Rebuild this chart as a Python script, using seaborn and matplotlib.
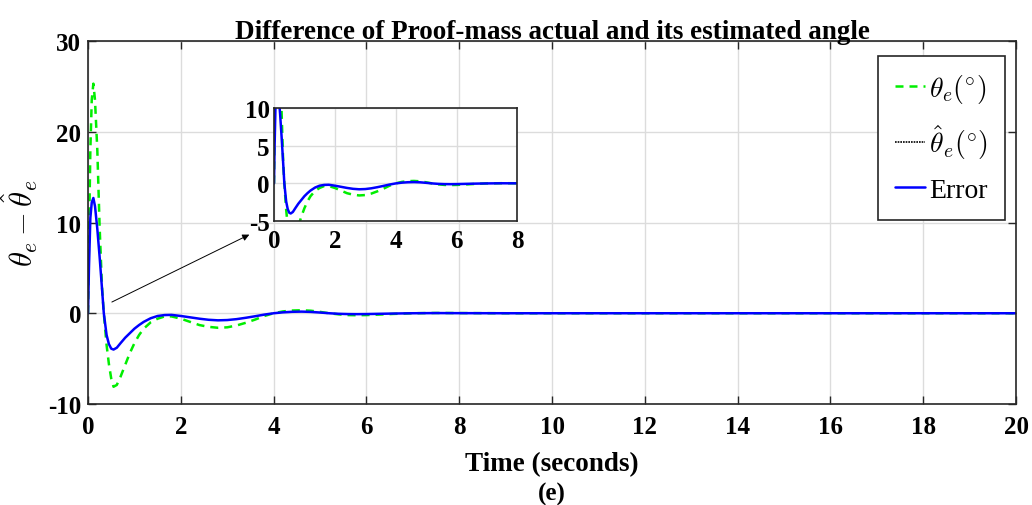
import numpy as np
import pandas as pd
import matplotlib
matplotlib.use("Agg")
import matplotlib.pyplot as plt
from matplotlib.lines import Line2D
import seaborn as sns

# ---------------- data ----------------
time_s = [0, 0.02, 0.05, 0.08, 0.115, 0.15, 0.2, 0.25, 0.3, 0.34, 0.4, 0.45, 0.5,
          0.55, 0.62, 0.7, 0.8, 0.9, 1.0, 1.1, 1.2, 1.35, 1.5, 1.65, 1.8, 2.0,
          2.2, 2.4, 2.6, 2.8, 3.0, 3.2, 3.4, 3.6, 3.8, 4.0, 4.2, 4.4, 4.6, 4.8,
          5.0, 5.2, 5.4, 5.6, 5.8, 6.0, 6.3, 6.6, 7.0, 7.5, 8, 9, 10, 12, 14,
          16, 18, 20]
theta_e = [0, 8, 18, 23.5, 25.3, 23.5, 18, 9.5, 3, 0, -3.5, -5.6, -7.2,
           -8.1, -7.9, -7.0, -5.7, -4.4, -3.3, -2.4, -1.7, -1.0, -0.6, -0.35, -0.35, -0.6,
           -0.95, -1.3, -1.5, -1.6, -1.55, -1.35, -1.05, -0.7, -0.3, 0.0, 0.2, 0.3, 0.33, 0.28,
           0.15, 0.0, -0.12, -0.2, -0.22, -0.2, -0.14, -0.07, 0.0, 0.03, 0.02, 0, 0, 0, 0,
           0, 0, 0]
error = [0, 5, 10.5, 12.2, 12.7, 11.8, 9.3, 6.2, 2.8, 0, -2.4, -3.4, -3.9,
         -4.0, -3.8, -3.3, -2.7, -2.2, -1.7, -1.3, -0.95, -0.55, -0.3, -0.2, -0.18, -0.3,
         -0.45, -0.6, -0.72, -0.78, -0.75, -0.65, -0.5, -0.33, -0.15, 0.0, 0.1, 0.16, 0.18, 0.15,
         0.08, 0.0, -0.06, -0.09, -0.1, -0.09, -0.06, -0.03, 0.0, 0.02, 0.01, 0, 0, 0, 0,
         0, 0, 0]

x_ticks = [0, 2, 4, 6, 8, 10, 12, 14, 16, 18, 20]
y_ticks = [-10, 0, 10, 20, 30]
inset_x_ticks = [0, 2, 4, 6, 8]
inset_y_ticks = [-5, 0, 5, 10]

title = "Difference of Proof-mass actual and its estimated angle"
xlabel = "Time (seconds)"
ylabel = r"$\theta_e - \hat{\theta}_e$"
caption = "(e)"
labels = [r"$\theta_e(^{\circ})$", r"$\hat{\theta}_e(^{\circ})$", "Error"]

# ---------------- style ----------------
sns.set_theme(style="ticks")
plt.rcParams["font.family"] = ["Liberation Serif", "DejaVu Serif"]
plt.rcParams["mathtext.fontset"] = "cm"
plt.rcParams["axes.unicode_minus"] = False
for k in ["text.color", "axes.labelcolor", "xtick.labelcolor", "ytick.labelcolor"]:
    plt.rcParams[k] = "black"

df = pd.DataFrame({"t": time_s, "theta": theta_e, "err": error})

GREEN = "#00ee00"
BLUE = "#0000ff"
SPINE = "#262626"
GRIDC = "#dcdcdc"

fig = plt.figure(figsize=(10.32, 5.06), dpi=100)
ax = fig.add_axes([0.0853, 0.1996, 0.8992, 0.7174])


def draw(a):
    sns.lineplot(data=df, x="t", y="theta", ax=a, color=GREEN, lw=1.8,
                 linestyle=(0, (3.2, 2.4)), legend=False)
    sns.lineplot(data=df, x="t", y="err", ax=a, color=BLUE, lw=1.8, legend=False)


def style(a, xt, yt, fs):
    a.set_xticks(xt)
    a.set_yticks(yt)
    a.grid(True, color=GRIDC, lw=1.0)
    a.tick_params(direction="in", top=True, right=True, length=6, width=1.0,
                  color=SPINE, labelcolor="black", labelsize=fs)
    a.tick_params(axis="x", pad=8)
    a.tick_params(axis="y", pad=5)
    for lab in a.get_xticklabels() + a.get_yticklabels():
        lab.set_fontweight("bold")
    for s in a.spines.values():
        s.set_color(SPINE)
        s.set_linewidth(1.2)
    a.set_xlabel("")
    a.set_ylabel("")


draw(ax)
ax.set_xlim(0, 20)
ax.set_ylim(-10, 30)
style(ax, x_ticks, y_ticks, 18)
ax.set_title(title, fontsize=19.5, fontweight="bold", pad=2, color="black")
ax.set_xlabel(xlabel, fontsize=19.5, fontweight="bold", labelpad=9, color="black")
ax.set_ylabel(ylabel, fontsize=22, labelpad=6, color="black")
fig.text(0.535, 0.0, caption, fontsize=18, fontweight="bold", ha="center", va="bottom",
         color="black")

handles = [Line2D([], [], color=GREEN, lw=1.8, linestyle=(0, (3.2, 2.4))),
           Line2D([], [], color="black", lw=1.2, linestyle=(0, (1, 0.6))),
           Line2D([], [], color=BLUE, lw=1.8)]
leg = ax.legend(handles, labels, loc="upper right", bbox_to_anchor=(0.988, 0.96),
                fontsize=20, handlelength=1.1, handletextpad=0.15, labelspacing=0.6,
                borderpad=0.6, fancybox=False, framealpha=1, edgecolor=SPINE,
                borderaxespad=0, labelcolor="black")
leg.get_frame().set_linewidth(1.2)

# arrow from main curve to the inset
ax.annotate("", xy=(3.53, 8.8), xytext=(0.46, 1.1),
            arrowprops=dict(arrowstyle="-|>", color="black", lw=0.7,
                            mutation_scale=10))

# inset
ins = fig.add_axes([0.2655, 0.5613, 0.2358, 0.2227])
draw(ins)
ins.set_xlim(0, 8)
ins.set_ylim(-5, 10)
style(ins, inset_x_ticks, inset_y_ticks, 18)
ins.tick_params(length=0)
ins.tick_params(axis="x", pad=6)
ins.tick_params(axis="y", pad=3)

fig.savefig("out.png", dpi=100)
